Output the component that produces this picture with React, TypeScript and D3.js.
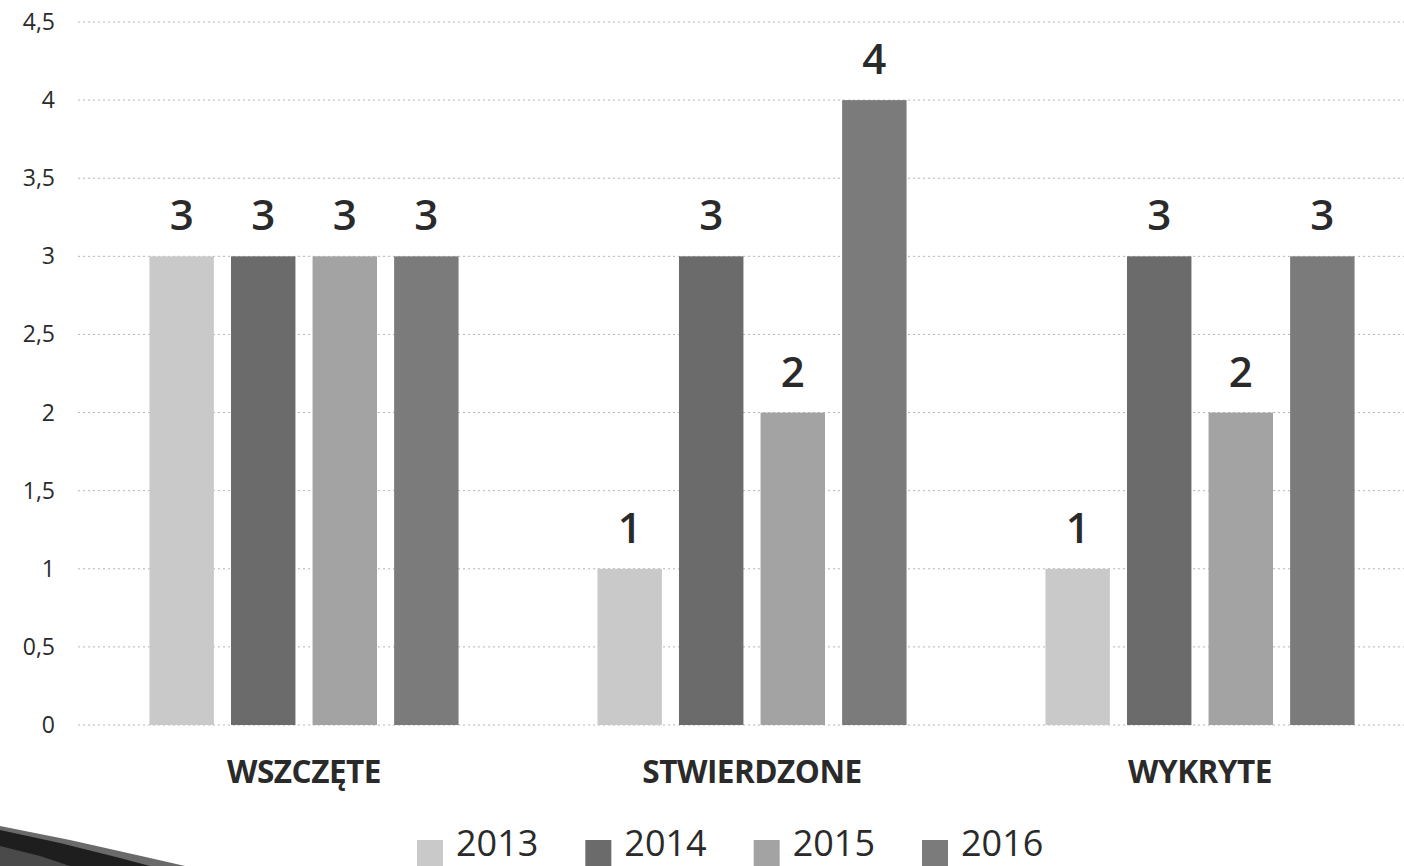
import React from "react";
import * as d3 from "d3";

const categories = ["WSZCZĘTE", "STWIERDZONE", "WYKRYTE"];
const years = ["2013", "2014", "2015", "2016"];
const values2013 = [3, 1, 1];
const values2014 = [3, 3, 3];
const values2015 = [3, 2, 2];
const values2016 = [3, 4, 3];
const yTicks = [0, 0.5, 1, 1.5, 2, 2.5, 3, 3.5, 4, 4.5];
const colors = ["#c9c9c9", "#6b6b6b", "#a3a3a3", "#7b7b7b"];

const W = 1404;
const H = 866;
const FONT = "'Open Sans', 'Noto Sans', sans-serif";

export default function App() {
  const series = [values2013, values2014, values2015, values2016];
  const y = d3.scaleLinear().domain([0, 4.5]).range([725, 22]);
  const x0 = d3
    .scaleBand<string>()
    .domain(categories)
    .range([80, 1424])
    .paddingInner(0.31)
    .paddingOuter(0.155);
  const x1 = d3
    .scaleBand<string>()
    .domain(years)
    .range([0, x0.bandwidth()])
    .paddingInner(0.21)
    .paddingOuter(0);
  const fmt = (v: number) => String(v).replace(".", ",");

  const legendScale = d3.scalePoint<string>().domain(years).range([417, 922]);

  return (
    <svg
      width={W}
      height={H}
      style={{ position: "absolute", left: 0, top: 0, background: "#fff" }}
      fontFamily={FONT}
    >
      <rect x={0} y={0} width={W} height={H} fill="#fff" />
      {yTicks.map((t) => (
        <g key={t}>
          <line
            x1={78}
            x2={W}
            y1={y(t)}
            y2={y(t)}
            stroke="#b5b5b5"
            strokeWidth={1}
            strokeDasharray="2 3"
          />
          <text
            x={55}
            y={y(t)}
            dy="0.35em"
            textAnchor="end"
            fontSize={23}
            fill="#2a2a2a"
          >
            {fmt(t)}
          </text>
        </g>
      ))}
      {categories.map((c, ci) => (
        <g key={c} transform={`translate(${x0(c)},0)`}>
          {years.map((yr, si) => {
            const v = series[si][ci];
            const bx = x1(yr)!;
            return (
              <g key={yr}>
                <rect
                  x={bx}
                  y={y(v)}
                  width={x1.bandwidth()}
                  height={y(0) - y(v)}
                  fill={colors[si]}
                />
                <text
                  x={bx + x1.bandwidth() / 2}
                  y={y(v) - 26}
                  textAnchor="middle"
                  fontSize={42}
                  fontWeight={600}
                  fill="#2a2a2a"
                >
                  {v}
                </text>
              </g>
            );
          })}
          <text
            x={x0.bandwidth() / 2}
            y={783}
            textAnchor="middle"
            fontSize={31.5}
            fontWeight={700}
            fill="#2a2a2a"
            letterSpacing={-0.5}
          >
            {c}
          </text>
        </g>
      ))}
      {years.map((yr, i) => (
        <g key={yr} transform={`translate(${legendScale(yr)},0)`}>
          <rect x={0} y={840} width={26} height={26} fill={colors[i]} />
          <text x={39} y={856} fontSize={36} fill="#2a2a2a">
            {yr}
          </text>
        </g>
      ))}
      <polygon
        points="0,826 70,840 150,858 185,866 0,866"
        fill="#6a6a6a"
      />
      <polygon points="0,830 60,843 120,858 150,866 0,866" fill="#1e1e1e" />
      <polygon points="0,846 40,856 70,866 0,866" fill="#4a4a4a" />
    </svg>
  );
}
